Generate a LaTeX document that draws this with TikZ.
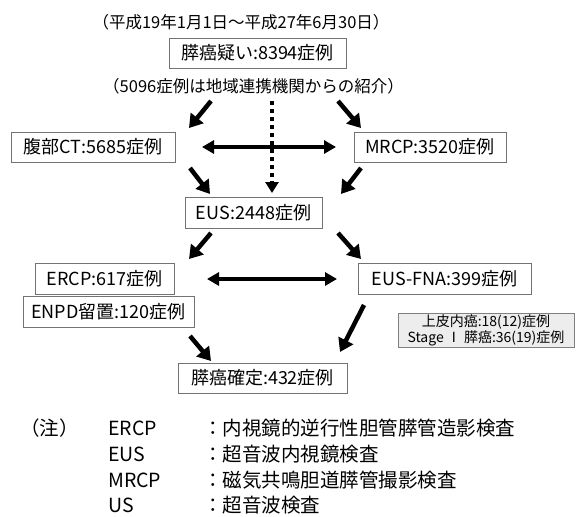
\documentclass[tikz,border=0pt]{standalone}
\usepackage{fontspec}
\setmainfont{Noto Sans CJK JP}
\usetikzlibrary{arrows.meta}
\begin{document}
\begin{tikzpicture}[x=1pt,y=-1pt,
 box/.style={draw=black!55, line width=1pt, fill=white, inner sep=0pt, minimum height=30pt, font=\fontsize{18}{21}\selectfont},
 lbl/.style={inner sep=0pt, font=\fontsize{16.5}{20}\selectfont},
 arr/.style={line width=4.5pt, -{Triangle[length=13pt,width=16pt]}},
 dbl/.style={line width=3.5pt, {Triangle[length=12pt,width=13pt]}-{Triangle[length=12pt,width=13pt]}},
 dotarr/.style={line width=4pt, dash pattern=on 4pt off 4pt, -{Triangle[length=11pt,width=13pt]}},
 note/.style={anchor=west, inner sep=0pt, font=\fontsize{19.5}{23}\selectfont}]
\useasboundingbox (0,0) rectangle (576,517);
\fill[white] (0,0) rectangle (576,517);

% texts and boxes
\node[lbl] (title) at (241,22) {（平成19年1月1日～平成27年6月30日）};
\node[box, minimum width=177pt] (susp) at (257.5,53) {膵癌疑い:8394症例};
\node[lbl] (sub) at (253.5,86) {（5096症例は地域連携機関からの紹介）};
\node[box, minimum width=164pt] (ct) at (93,147) {腹部CT:5685症例};
\node[box, minimum width=152pt] (mrcp) at (430,147) {MRCP:3520症例};
\node[box, minimum width=137pt, minimum height=31pt] (eus) at (253.5,212.5) {EUS:2448症例};
\node[box, minimum width=139pt, minimum height=31pt] (ercp) at (104.5,278.5) {ERCP:617症例};
\node[box, minimum width=171pt, minimum height=31pt] (enpd) at (108.5,311.5) {ENPD留置:120症例};
\node[box, minimum width=173pt, minimum height=31pt] (fna) at (444.5,278.5) {EUS-FNA:399症例};
\node[draw=black!50, line width=0.8pt, fill=black!7, inner sep=0pt, minimum width=176pt, minimum height=34pt,
      align=center, font=\fontsize{14}{16}\selectfont] (info) at (486,330)
      {上皮内癌:18(12)症例\\Stage Ⅰ 膵癌:36(19)症例};
\node[box, minimum width=169pt] (conf) at (262.5,378) {膵癌確定:432症例};

% arrow end points
\coordinate (a1s) at (211,101); \coordinate (a1e) at (189,128);
\coordinate (a2s) at (338,101); \coordinate (a2e) at (361,128);
\coordinate (dots) at (272,101); \coordinate (dote) at (272,193);
\coordinate (h1s) at (202,147); \coordinate (h1e) at (336,147);
\coordinate (a3s) at (190,168); \coordinate (a3e) at (210,194);
\coordinate (a4s) at (361,168); \coordinate (a4e) at (341,194);
\coordinate (a5s) at (211,233); \coordinate (a5e) at (189,259);
\coordinate (a6s) at (338,233); \coordinate (a6e) at (361,259);
\coordinate (h2s) at (207,279); \coordinate (h2e) at (337,279);
\coordinate (a7s) at (364,305); \coordinate (a7e) at (340,352);
\coordinate (a8s) at (190,336); \coordinate (a8e) at (211,361);

\draw[dotarr] (dots) -- (dote);
\draw[arr] (a1s) -- (a1e);
\draw[arr] (a2s) -- (a2e);
\draw[dbl] (h1s) -- (h1e);
\draw[arr] (a3s) -- (a3e);
\draw[arr] (a4s) -- (a4e);
\draw[arr] (a5s) -- (a5e);
\draw[arr] (a6s) -- (a6e);
\draw[dbl] (h2s) -- (h2e);
\draw[arr] (a7s) -- (a7e);
\draw[arr] (a8s) -- (a8e);

% notes
\node[note] (n0) at (20,428) {（注）};
\node[note] (n1a) at (108,428) {ERCP};
\node[note] (n1b) at (203,428) {：内視鏡的逆行性胆管膵管造影検査};
\node[note] (n2a) at (108,454) {EUS};
\node[note] (n2b) at (203,454) {：超音波内視鏡検査};
\node[note] (n3a) at (108,480) {MRCP};
\node[note] (n3b) at (203,480) {：磁気共鳴胆道膵管撮影検査};
\node[note] (n4a) at (108,505) {US};
\node[note] (n4b) at (203,505) {：超音波検査};
\end{tikzpicture}
\end{document}
